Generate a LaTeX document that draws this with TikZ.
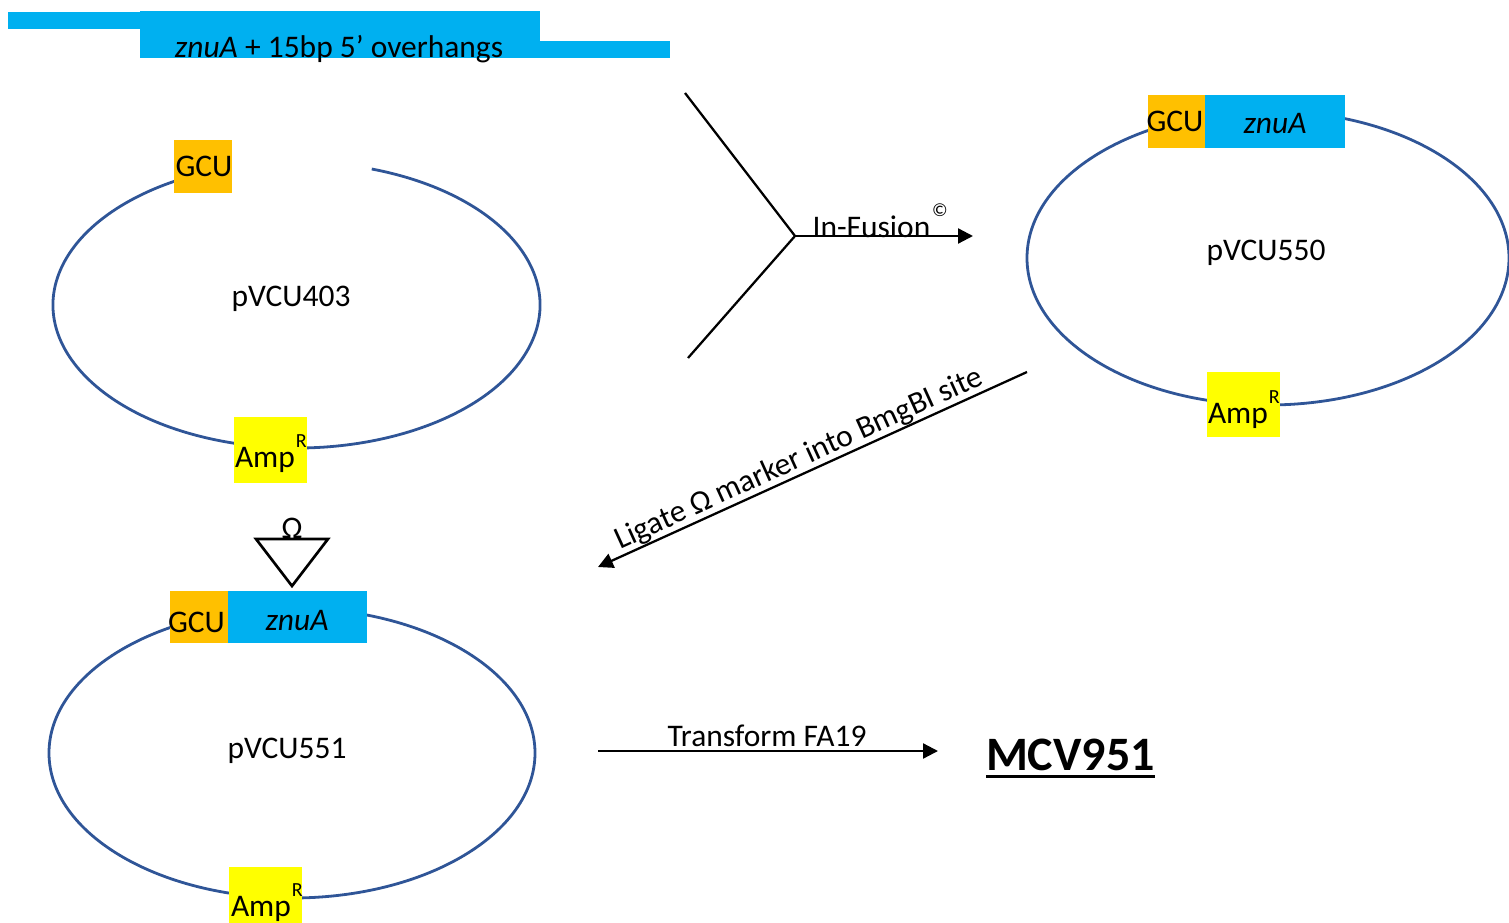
\documentclass[tikz,border=0pt]{standalone}
\usepackage{fontspec}
\setmainfont{Carlito}
\usetikzlibrary{arrows.meta}
\definecolor{znublue}{HTML}{00B0F0}
\definecolor{gcuorange}{HTML}{FFC000}
\definecolor{ampyellow}{HTML}{FFFF00}
\definecolor{plasmid}{HTML}{2F5597}
\newcommand\fsmain{\fontsize{23.6pt}{28pt}\selectfont}
\newcommand\supR{\kern0.8pt\raisebox{15pt}{\fontsize{15pt}{15pt}\selectfont R}}
\begin{document}
\begin{tikzpicture}[x=0.75pt,y=-0.75pt,
  txt/.style={inner sep=0pt, outer sep=0pt, font=\fsmain},
  plasmidline/.style={draw=plasmid, line width=2.1pt},
  blk/.style={draw=black, line width=1.7pt},
  tip/.style={-{Triangle[length=11.25pt,width=11.25pt]}},
  gcubox/.style={fill=gcuorange, inner sep=0pt, outer sep=0pt},
  znubox/.style={fill=znublue, inner sep=0pt, outer sep=0pt},
  ampbox/.style={fill=ampyellow, inner sep=0pt, outer sep=0pt, minimum width=54.75pt}
]
\useasboundingbox (0,0) rectangle (1509,923);

% top PCR fragment
\fill[znublue] (8,12) rectangle (140,29);
\fill[znublue] (140,11) rectangle (540,58);
\fill[znublue] (540,41) rectangle (670,58);
\node[txt, anchor=base] (frag) at (339,58) {\textit{znuA} + 15bp 5’ overhangs};

% pVCU403
\draw[plasmidline] (296.5,305) ++(-72:243.5 and 143)
  arc[start angle=-72, end angle=250, x radius=243.5, y radius=143];
\node[gcubox, minimum width=43.5pt, minimum height=39.75pt] (gcuA) at (203,166.5) {};
\node[txt] (gcuAt) at (204,166.5) {GCU};
\node[ampbox, minimum height=49.5pt] (ampA) at (270.5,450) {};
\node[txt, anchor=base west] (ampAt) at (235,467) {Amp\supR};
\node[txt, anchor=base] (p403) at (291,307) {pVCU403};

% pVCU550
\draw[plasmidline] (1268,258) ellipse[x radius=241, y radius=147];
\node[gcubox, minimum width=42.75pt, minimum height=39.75pt] (gcuB) at (1176.5,121.5) {};
\node[znubox, minimum width=105pt, minimum height=39.75pt] (znuB) at (1275,121.5) {};
\node[txt] (gcuBt) at (1175,121) {GCU};
\node[txt, font=\fsmain\itshape] (znuBt) at (1275,124) {znuA};
\node[ampbox, minimum height=48.75pt] (ampB) at (1243.5,404.5) {};
\node[txt, anchor=base west] (ampBt) at (1208,423) {Amp\supR};
\node[txt, anchor=base] (p550) at (1266,261) {pVCU550};

% pVCU551
\draw[plasmidline] (292,753) ellipse[x radius=243, y radius=145];
\node[gcubox, minimum width=43.5pt, minimum height=39pt] (gcuC) at (199,617) {};
\node[znubox, minimum width=104.25pt, minimum height=39pt] (znuC) at (297.5,617) {};
\node[txt] (gcuCt) at (196.5,622) {GCU};
\node[txt, font=\fsmain\itshape] (znuCt) at (297,621) {znuA};
\node[ampbox, minimum height=49.5pt] (ampC) at (265.5,900) {};
\node[txt, anchor=base west] (ampCt) at (231,916) {Amp\supR};
\node[txt, anchor=base] (p551) at (287,758) {pVCU551};

% omega insertion triangle
\coordinate (triL) at (256,539);
\coordinate (triR) at (328,539);
\coordinate (triB) at (292,586);
\draw[blk, line width=2pt, line join=miter] (triL) -- (triR) -- (triB) -- cycle;
\node[txt, anchor=base] (omega) at (292,538) {Ω};

% In-Fusion junction
\coordinate (y1) at (685,93);
\coordinate (y2) at (688,358);
\coordinate (yj) at (795,236);
\coordinate (ye) at (973,236);
\draw[blk] (y1) -- (yj) -- (y2);
\draw[blk, tip] (yj) -- (ye);
\node[txt, anchor=base] (inf) at (871.5,238) {In-Fusion};
\node[txt, anchor=base west, font=\fontsize{14pt}{14pt}\selectfont] (copyr) at (932,217) {©};

% ligation arrow
\coordinate (lgTip) at (598,567);
\coordinate (lgStart) at (1027,372);
\draw[blk, {Triangle[length=11.25pt,width=11.25pt]}-] (lgTip) -- node[txt, sloped, anchor=south, pos=0.483, inner sep=1pt] (lgt) {Ligate Ω marker into BmgBI site} (lgStart);

% transform arrow
\coordinate (tr1) at (598,751);
\coordinate (tr2) at (938,751);
\draw[blk, tip] (tr1) -- (tr2);
\node[txt, anchor=base] (trt) at (767,746) {Transform FA19};

% final strain
\node[inner sep=0pt, outer sep=0pt, anchor=base west, font=\fontsize{36pt}{40pt}\selectfont\bfseries] (mcv) at (986,770) {MCV951};
\draw[line width=2.25pt] ([yshift=-4.5pt]mcv.base west) -- ([yshift=-4.5pt]mcv.base east);
\end{tikzpicture}
\end{document}
